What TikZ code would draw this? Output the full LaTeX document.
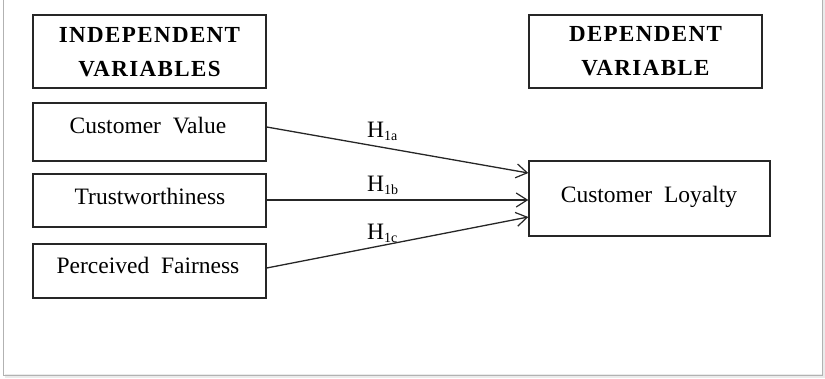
\documentclass[tikz,border=0pt]{standalone}
\usepackage{fontspec}
\setmainfont{Liberation Serif}
\usetikzlibrary{arrows.meta}
\newcommand{\hsub}[1]{\raisebox{-3pt}{\fontsize{14}{14}\selectfont #1}}
\tikzset{
  box/.style={draw=black!85, line width=1.4pt, rectangle, inner sep=0pt},
  lbl/.style={anchor=base, inner sep=0pt, font=\fontsize{23.5}{28}\selectfont},
  hdr/.style={anchor=base, inner sep=0pt, font=\fontsize{23}{28}\selectfont\bfseries\addfontfeature{LetterSpace=6}},
  hyp/.style={anchor=base west, inner sep=0pt, font=\fontsize{23.5}{28}\selectfont},
  conn/.style={draw=black!85, line width=1.3pt, -{Straight Barb[length=11pt,width=14pt,line width=1.2pt]}},
  frame/.style={draw=black!30, line width=1pt}
}
\begin{document}
\begin{tikzpicture}[x=1pt,y=-1pt]
\useasboundingbox (0,0) rectangle (825,378);
% outer frame with shadow
\fill[black!8] (5,374) rectangle (825,378);
\fill[black!8] (822,0) rectangle (825,378);
\draw[frame] (3.5,0) -- (3.5,375.5) -- (822.5,375.5) -- (822.5,0);
% header boxes
\node[box, minimum width=233pt, minimum height=73pt] (ivbox) at (149.5,51.5) {};
\node[hdr] (iv1) at (149.5,42) {INDEPENDENT};
\node[hdr] (iv2) at (149.5,76) {VARIABLES};
\node[box, minimum width=233pt, minimum height=73pt] (dvbox) at (645.5,51.5) {};
\node[hdr] (dv1) at (645.5,41) {DEPENDENT};
\node[hdr] (dv2) at (645.5,75) {VARIABLE};
% independent variables
\node[box, minimum width=233pt, minimum height=58pt] (cv) at (149.5,132) {};
\node[lbl] (cvt) at (148,133) {Customer \ Value};
\node[box, minimum width=233pt, minimum height=53pt] (tw) at (149.5,200.5) {};
\node[lbl] (twt) at (150,204) {Trustworthiness};
\node[box, minimum width=233pt, minimum height=54pt] (pf) at (149.5,271) {};
\node[lbl] (pft) at (148,273) {Perceived \ Fairness};
% dependent variable
\node[box, minimum width=241pt, minimum height=75pt] (cl) at (649.5,198.5) {};
\node[lbl] (clt) at (649,202) {Customer \ Loyalty};
% connectors
\draw[conn] ([yshift=5pt]cv.east) -- ([yshift=25.5pt]cl.west);
\draw[conn] ([yshift=0.5pt]tw.east) -- ([yshift=-1.5pt]cl.west);
\draw[conn] ([yshift=3pt]pf.east) -- ([yshift=-18.5pt]cl.west);
% hypothesis labels
\node[hyp] (h1) at (367,137) {H\hsub{1a}};
\node[hyp] (h2) at (367,191) {H\hsub{1b}};
\node[hyp] (h3) at (367,239) {H\hsub{1c}};
\end{tikzpicture}
\end{document}
